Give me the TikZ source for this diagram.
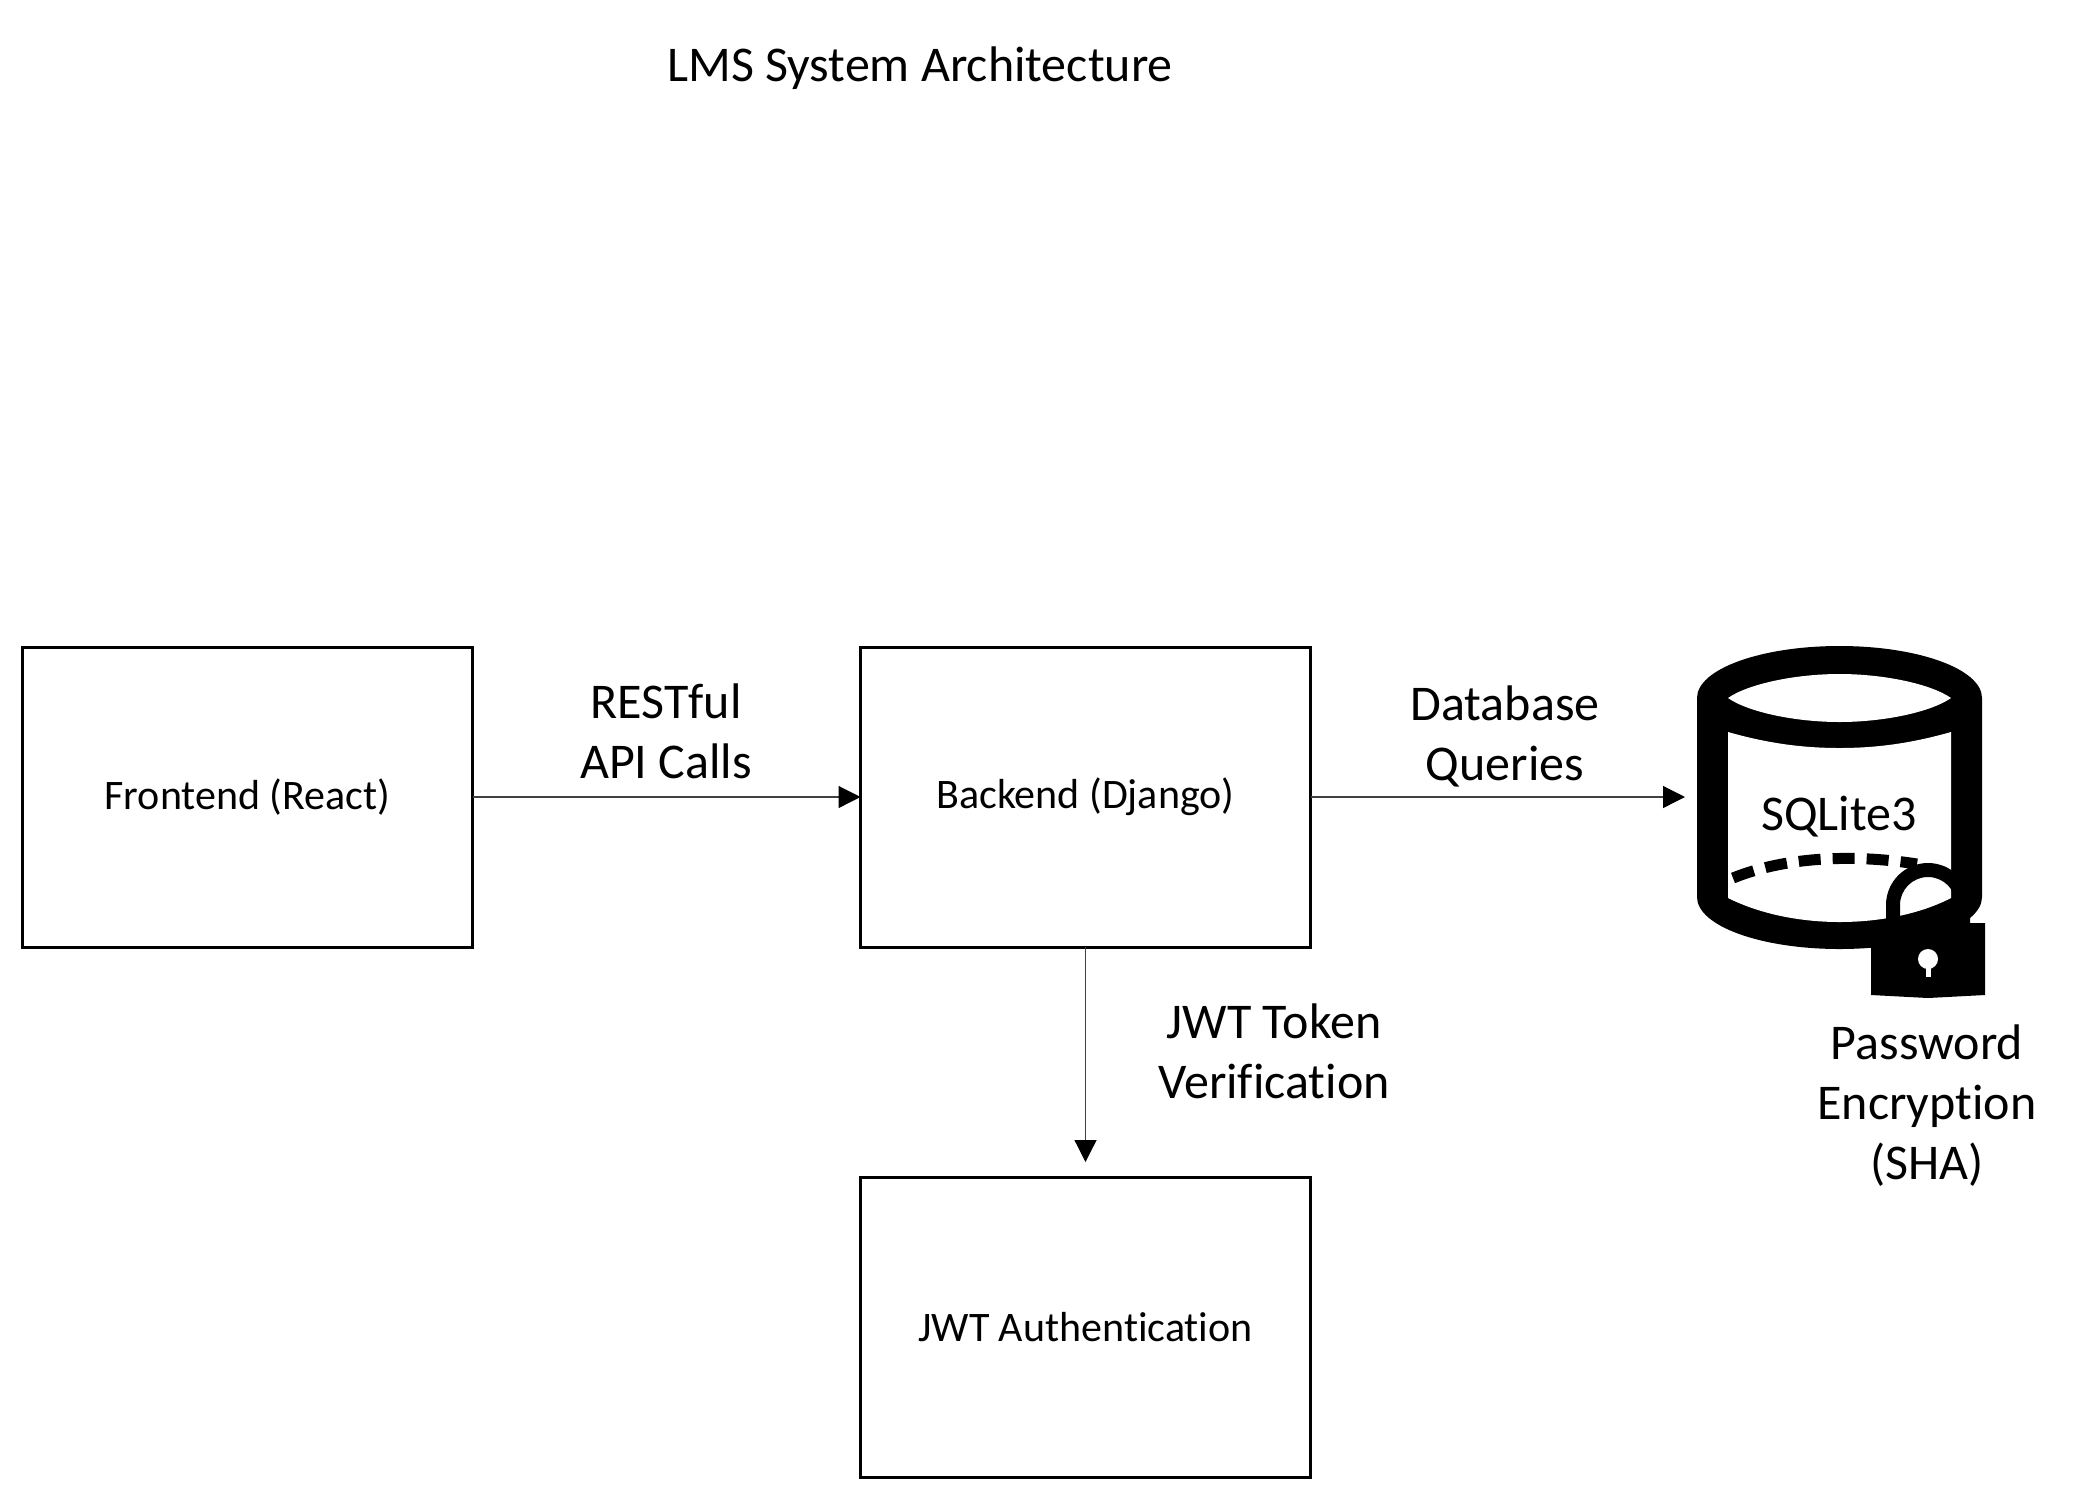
\documentclass[tikz,border=0pt]{standalone}
\usepackage{fontspec}
\setmainfont[Ligatures=NoCommon]{Carlito}
\usetikzlibrary{arrows.meta}
\tikzset{
  boxnode/.style={draw=black,line width=1.5pt,minimum width=225pt,minimum height=150pt,inner sep=0pt,outer sep=0pt,font=\fontsize{21}{24}\selectfont,align=center},
  biglabel/.style={inner sep=0pt,outer sep=0pt,align=center,font=\fontsize{25}{30}\selectfont},
  flow/.style={draw=black!75,line width=0.6pt,-{Triangle[length=11pt,width=11pt,black]}},
}
\begin{document}
\begin{tikzpicture}[x=0.5pt,y=-0.5pt]
\useasboundingbox (0,0) rectangle (2094,1500);
\node[biglabel] (title) at (920,68) {LMS System Architecture};
\node[boxnode] (front) at (247.5,797) {\raisebox{-1pt}{Frontend (React)}};
\node[boxnode] (back) at (1085.5,797) {\raisebox{-1pt}{Backend (Django)}};
\node[boxnode] (jwt) at (1085.5,1327) {JWT Authentication};
% database icon
\fill[black] (1697,698) .. controls (1697,669) and (1761,646) .. (1839.5,646) .. controls (1918,646) and (1982,669) .. (1982,698) -- (1982,897) .. controls (1982,926) and (1918,949) .. (1839.5,949) .. controls (1761,949) and (1697,926) .. (1697,897) -- cycle;
\fill[white] (1728,698) .. controls (1748,684) and (1795,674) .. (1839.5,674) .. controls (1884,674) and (1931,684) .. (1951,698) .. controls (1931,712) and (1884,722) .. (1839.5,722) .. controls (1795,722) and (1748,712) .. (1728,698) -- cycle;
\fill[white] (1728,732) .. controls (1770,744) and (1805,748) .. (1839.5,748) .. controls (1874,748) and (1909,744) .. (1951,732) -- (1951,898) .. controls (1920,914) and (1880,922) .. (1839.5,922) .. controls (1800,922) and (1760,914) .. (1728,898) -- cycle;
\draw[black,line width=5.5pt,dash pattern=on 11pt off 6pt] (1733,878) .. controls (1790,855) and (1860,855) .. (1917,864);
\fill[black,even odd rule] (1886,930) -- (1886,905) arc[start angle=180,end angle=360,radius=42] -- (1970,930) -- cycle
  (1900,930) -- (1900,905) arc[start angle=180,end angle=360,radius=28] -- (1956,930) -- cycle;
\fill[black] (1871,923) -- (1985,923) -- (1985,995) -- (1928,998) -- (1871,995) -- cycle;
\fill[white] (1928,959) circle[radius=10];
\fill[white] (1925.5,962) rectangle (1930.5,977);
\node[biglabel] (db) at (1839,817) {SQLite3};
\node[biglabel] (pw) at (1927,1106) {Password\\Encryption\\(SHA)};
\coordinate (dbin) at (1685,797);
% connectors
\draw[flow] (front.east) -- (back.west);
\draw[flow] (back.east) -- (dbin);
\draw[flow,shorten >=7.5pt] (back.south) -- (jwt.north);
\node[biglabel] (l1) at (666,731) {RESTful\\API Calls};
\node[biglabel] (l2) at (1505,736) {Database\\Queries};
\node[biglabel] (l3) at (1274,1051) {JWT Token\\Verification};
\end{tikzpicture}
\end{document}
